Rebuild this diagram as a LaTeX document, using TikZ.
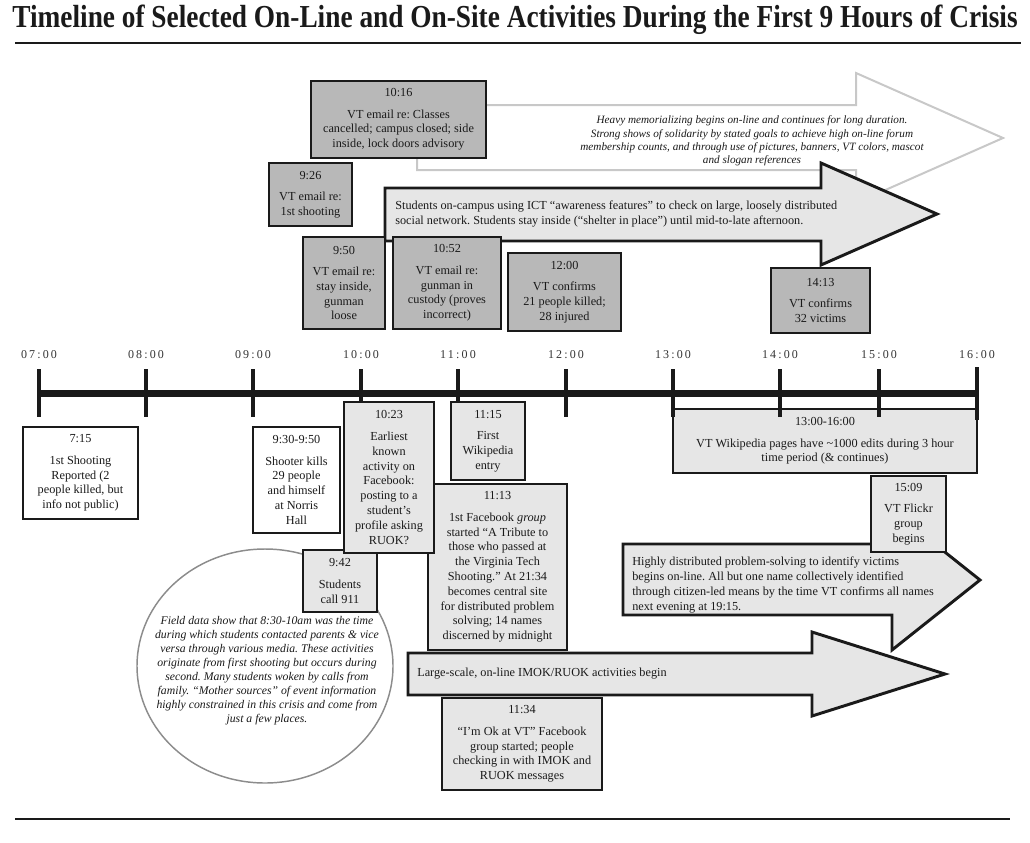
\documentclass[tikz,border=0pt]{standalone}
\usepackage{fontspec}
\setmainfont{Liberation Serif}
\newfontfamily\spacedfont[LetterSpace=18]{Liberation Serif}
\usetikzlibrary{shapes.geometric}
\frenchspacing
\definecolor{dgray}{HTML}{B8B8B8}
\definecolor{lgray}{HTML}{E6E6E6}
\definecolor{ink}{HTML}{1A1A1A}
\definecolor{pale}{HTML}{C8C8C8}
\definecolor{ringc}{HTML}{8C8C8C}
\definecolor{labc}{HTML}{333333}
\newcommand\bx[7]{\node[#2, minimum width={(#5-#3)*0.75pt}, minimum height={(#6-#4)*0.75pt}] (#1) at ({(#3+#5)/2},{(#4+#6)/2}) {#7};}
\tikzset{
  box/.style={rectangle, inner sep=0pt, align=center, font=\fontsize{9.2}{11.1}\selectfont, text=ink},
  dbox/.style={box, fill=dgray, draw=ink, line width=2.2pt},
  lbox/.style={box, fill=lgray, draw=ink, line width=2pt},
  wbox/.style={box, fill=white, draw=ink, line width=1.6pt},
  bigarrow/.style={fill=lgray, draw=ink, line width=2.2pt, line join=miter},
  arrtext/.style={anchor=west, align=left, inner sep=0pt, font=\fontsize{9.2}{11.1}\selectfont, text=ink},
  ticklab/.style={font=\fontsize{9}{10}\spacedfont, text=labc, inner sep=0pt},
  tickline/.style={line width=3.5pt, ink},
}
\begin{document}
\begin{tikzpicture}[x=0.75pt, y=-0.75pt]
\useasboundingbox (0,0) rectangle (1030,842);
% title and rules
\node[inner sep=0pt, text=ink] (title) at (515,20) {\resizebox{754pt}{\height}{\fontsize{24}{24}\selectfont\bfseries Timeline of Selected On-Line and On-Site Activities During the First 9 Hours of Crisis}};
\coordinate (rt1) at (15,43); \coordinate (rt2) at (1021,43);
\draw[line width=2.2pt, ink] (rt1) -- (rt2);
\coordinate (rb1) at (15,819); \coordinate (rb2) at (1010,819);
\draw[line width=2.2pt, ink] (rb1) -- (rb2);

% white memorial arrow
\draw[fill=white, draw=pale, line width=1.5pt, line join=miter] (417,105) -- (856,105) -- (856,73) -- (1003,138) -- (856,203) -- (856,170) -- (417,170) -- cycle;
\node[align=center, inner sep=0pt, text=ink, font=\fontsize{8.4}{10}\selectfont\itshape] (memtext) at (752,141) {Heavy memorializing begins on-line and continues for long duration.\\Strong shows of solidarity by stated goals to achieve high on-line forum\\membership counts, and through use of pictures, banners, VT colors, mascot\\and slogan references};

% students arrow
\draw[bigarrow] (385,188) -- (821,188) -- (821,163) -- (937,214) -- (821,265) -- (821,241) -- (385,241) -- cycle;
\node[arrtext] (stutext) at (395,214) {Students on-campus using ICT “awareness features” to check on large, loosely distributed\\social network. Students stay inside (“shelter in place”) until mid-to-late afternoon.};

% dark boxes
\bx{t1016}{dbox}{311}{81}{486}{158}{10:16\\[5pt]VT email re: Classes\\cancelled; campus closed; side\\inside, lock doors advisory}
\bx{t926}{dbox}{269}{163}{352}{226}{9:26\\[5pt]VT email re:\\1st shooting}
\bx{t950}{dbox}{303}{237}{385}{329}{9:50\\[5pt]VT email re:\\stay inside,\\gunman\\loose}
\bx{t1052}{dbox}{393}{237}{501}{329}{10:52\\[5pt]VT email re:\\gunman in\\custody (proves\\incorrect)}
\bx{t1200}{dbox}{508}{253}{621}{331}{12:00\\[5pt]VT confirms\\21 people killed;\\28 injured}
\bx{t1413}{dbox}{771}{268}{870}{333}{14:13\\[5pt]VT confirms\\32 victims}

% wikipedia period box
\bx{t1300}{lbox}{673}{409}{977}{473}{13:00-16:00\\[5pt]VT Wikipedia pages have \textasciitilde1000 edits during 3 hour\\time period (\& continues)}

% timeline
\coordinate (ta) at (39,393); \coordinate (tb) at (977,393);
\draw[line width=5.25pt, ink] (ta) -- (tb);
\foreach \x/\lab/\nm in {39/07:00/h7, 146/08:00/h8, 253/09:00/h9, 361/10:00/h10, 458/11:00/h11, 566/12:00/h12, 673/13:00/h13, 780/14:00/h14, 879/15:00/h15}{
  \coordinate (\nm top) at (\x,369);
  \coordinate (\nm bot) at (\x,417);
  \draw[tickline] (\nm top) -- (\nm bot);
  \node[ticklab] (\nm lab) at (\x,355) {\lab};
}
\coordinate (h16top) at (977,367); \coordinate (h16bot) at (977,420);
\draw[tickline] (h16top) -- (h16bot);
\node[ticklab] (h16lab) at (977,355) {16:00};

% white boxes
\bx{t715}{wbox}{23}{427}{138}{519}{7:15\\[5pt]1st Shooting\\Reported (2\\people killed, but\\info not public)}
\bx{t930}{wbox}{253}{427}{340}{533}{9:30-9:50\\[5pt]Shooter kills\\29 people\\and himself\\at Norris\\Hall}

% ellipse
\node[ellipse, draw=ringc, line width=1.1pt, fill=white, minimum width={256*0.75pt}, minimum height={234*0.75pt}, inner sep=0pt] (ell) at (265,666) {};
\node[align=center, inner sep=0pt, text=ink, font=\fontsize{8.8}{10.5}\selectfont\itshape] (elltext) at (267,671) {Field data show that 8:30-10am was the time\\during which students contacted parents \& vice\\versa through various media. These activities\\originate from first shooting but occurs during\\second. Many students woken by calls from\\family. “Mother sources” of event information\\highly constrained in this crisis and come from\\just a few places.};

% light boxes
\bx{t942}{lbox}{303}{550}{377}{612}{9:42\\[5pt]Students\\call 911}
\bx{t1113}{lbox}{428}{484}{567}{650}{11:13\\[5pt]1st Facebook \textit{group}\\started “A Tribute to\\those who passed at\\the Virginia Tech\\Shooting.” At 21:34\\becomes central site\\for distributed problem\\solving; 14 names\\discerned by midnight}
\bx{t1023}{lbox}{344}{402}{434}{553}{10:23\\[5pt]Earliest\\known\\activity on\\Facebook:\\posting to a\\student’s\\profile asking\\RUOK?}
\bx{t1115}{lbox}{451}{402}{525}{480}{11:15\\[5pt]First\\Wikipedia\\entry}

% distributed problem solving arrow
\draw[bigarrow] (623,544) -- (892,544) -- (892,510) -- (980,580) -- (892,650) -- (892,615) -- (623,615) -- cycle;
\node[arrtext] (distext) at (632,585) {Highly distributed problem-solving to identify victims\\begins on-line. All but one name collectively identified\\through citizen-led means by the time VT confirms all names\\next evening at 19:15.};
\bx{t1509}{lbox}{871}{476}{946}{552}{15:09\\[5pt]VT Flickr\\group\\begins}

% IMOK arrow
\draw[bigarrow] (408,653) -- (812,653) -- (812,632) -- (945,674) -- (812,716) -- (812,695) -- (408,695) -- cycle;
\node[arrtext] (imoktext) at (417,674) {Large-scale, on-line IMOK/RUOK activities begin};
\bx{t1134}{lbox}{442}{698}{602}{790}{11:34\\[5pt]“I’m Ok at VT” Facebook\\group started; people\\checking in with IMOK and\\RUOK messages}
\end{tikzpicture}
\end{document}
